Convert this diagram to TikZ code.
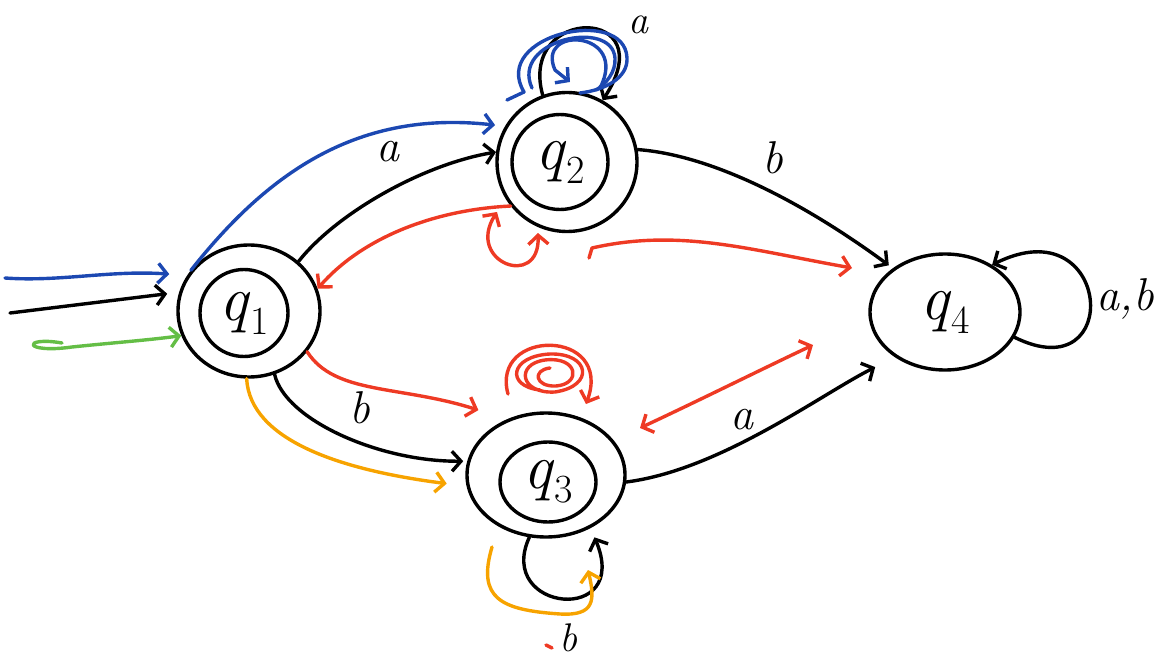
\documentclass[tikz,border=0pt]{standalone}
\usetikzlibrary{arrows.meta,shapes.geometric}
\definecolor{penblue}{RGB}{28,72,178}
\definecolor{penred}{RGB}{238,58,36}
\definecolor{penorange}{RGB}{247,163,0}
\definecolor{pengreen}{RGB}{100,190,70}
\newcommand{\qsub}[1]{\textit{q}\raisebox{-0.22em}{\fontsize{40}{40}\selectfont #1}}
\begin{document}
\begin{tikzpicture}[x=1pt,y=-1pt, line width=3.4pt, line cap=round, line join=round,
  state/.style={draw, ellipse, inner sep=0pt},
  tip/.tip={Straight Barb[length=9pt,width=20pt]},
  edge/.style={-tip},
  lbl/.style={font=\fontsize{46}{46}\selectfont\itshape, inner sep=0pt},
  qlbl/.style={font=\fontsize{64}{64}\selectfont}]
\useasboundingbox (0,0) rectangle (1165,658);

% states
\node[state, minimum width=142pt, minimum height=132pt] (q1) at (249,311) {};
\node[state, minimum width=88pt, minimum height=87pt, qlbl] (q1in) at (244,313) {\qsub{1}};
\node[state, minimum width=140pt, minimum height=139pt] (q2) at (567,162) {};
\node[state, minimum width=96pt, minimum height=95pt, qlbl] (q2in) at (560,162) {\qsub{2}};
\node[state, minimum width=158pt, minimum height=124pt] (q3) at (546,475) {};
\node[state, minimum width=96pt, minimum height=80pt, qlbl] (q3in) at (548,482) {\qsub{3}};
\node[state, minimum width=150pt, minimum height=116pt, qlbl] (q4) at (945,312) {\qsub{4}};

% labels
\node[lbl, font=\fontsize{40}{40}\selectfont\itshape] (la2) at (638,25) {a};
\node[lbl] (la12) at (388,152) {a};
\node[lbl] (lb24) at (773,158) {b};
\node[lbl] (lb13) at (360,408) {b};
\node[lbl] (la34) at (742,420) {a};
\node[lbl] (lab4) at (1125,299) {a,b};
\node[lbl, font=\fontsize{40}{40}\selectfont\itshape] (lb3) at (568,638) {b};

% free ends
\coordinate (s0) at (10,313);
\coordinate (s1) at (5,278);
\coordinate (g0) at (62,343);

% black transitions
\draw[edge, shorten >=12pt] (s0) -- (q1.165);
\draw[edge] (q1.45) .. controls (335,215) and (420,165) .. (q2.172);
\draw[edge, shorten >=4pt] (q1.-68) .. controls (285,420) and (380,462) .. (q3.170);
\draw[edge, shorten >=5pt] (q2.10) .. controls (710,155) and (800,200) .. (q4.140);
\draw[edge, shorten >=22pt] (q3.-5) .. controls (720,470) and (820,395) .. (q4.222);
\draw[edge] (q2.110) .. controls (518,5) and (665,5) .. (q2.60);
\draw[edge, shorten >=10pt] (q3.-105) .. controls (495,612) and (632,626) .. (q3.-50);
\draw[edge] (q4.-20) .. controls (1125,392) and (1112,205) .. (q4.45);

% blue
\draw[penblue, edge, shorten >=18pt] (s1) .. controls (60,282) and (110,270) .. (q1.150);
\draw[penblue, edge, shorten >=10pt] (q1.145) .. controls (270,170) and (360,110) .. (q2.150);
\draw[penblue] (507,100) -- (524,92) .. controls (490,35) and (625,5) .. (627,58)
  .. controls (628,78) and (605,90) .. (580,93);
\draw[penblue] (532,88) .. controls (510,40) and (612,18) .. (615,58)
  .. controls (616,72) and (606,84) .. (596,90);
\draw[penblue, edge] (600,88) .. controls (630,30) and (535,25) .. (555,70) -- (570,82);

% green
\draw[pengreen, edge] (g0) .. controls (22,336) and (22,354) .. (72,347) .. controls (110,343) and (150,340) .. (q1.200);

% red
\draw[penred, edge] (q2.218) .. controls (430,210) and (360,240) .. (q1.18);
\draw[penred, tip-tip] (497,212) .. controls (465,262) and (540,290) .. (538,233);
\draw[penred, edge] (589,258) -- (592,248) .. controls (680,228) and (750,250) .. (852,268);
\draw[penred, edge, shorten >=30pt] (q1.-35) .. controls (335,395) and (400,385) .. (q3.125);
\draw[penred, edge] (508,394) .. controls (490,328) and (614,328) .. (586,404);
\draw[penred] (540,390) .. controls (505,386) and (510,356) .. (550,354)
  .. controls (590,353) and (595,386) .. (555,392)
  .. controls (520,394) and (515,364) .. (545,360)
  .. controls (578,356) and (582,384) .. (556,386)
  .. controls (535,387) and (532,370) .. (550,368);
\draw[penred, tip-tip] (640,428) .. controls (700,400) and (760,370) .. (813,345);
\draw[penred] (546,645) -- (552,648);

% orange
\draw[penorange, edge, shorten >=20pt] (q1.-92) .. controls (250,440) and (340,470) .. (q3.188);
\draw[penorange, edge] (492,547) .. controls (477,598) and (500,610) .. (560,614)
  .. controls (595,616) and (595,600) .. (588,570);
\end{tikzpicture}
\end{document}
